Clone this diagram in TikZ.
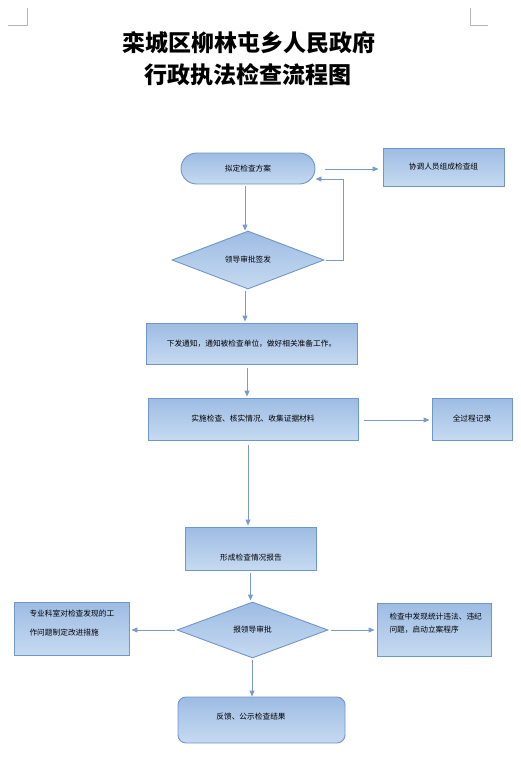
\documentclass[tikz,border=0pt]{standalone}
\usepackage{fontspec}
\setmainfont{Noto Sans CJK SC}
\newfontfamily\cjk{Noto Sans CJK SC}
\usetikzlibrary{shapes.geometric,arrows.meta}
\definecolor{bord}{HTML}{7096C8}
\definecolor{topc}{HTML}{9DBCE3}
\definecolor{botc}{HTML}{C6DAF1}
\definecolor{arrc}{HTML}{7A9BC6}
\definecolor{markc}{HTML}{B4B4B4}
\tikzset{
  lbl/.style={font=\cjk\fontsize{7.7}{9}\selectfont, text=black},
  boxstyle/.style={draw=bord, line width=0.9pt, top color=topc, bottom color=botc, inner sep=0pt, lbl},
  box/.style={boxstyle, rectangle},
  stadium/.style={boxstyle, rectangle, rounded corners=15.5pt},
  rbox/.style={boxstyle, rectangle, rounded corners=8pt},
  dia/.style={boxstyle, diamond},
  arr/.style={draw=arrc, line width=0.9pt, -{Triangle[length=6pt,width=5pt]}},
  cornermark/.style={draw=markc, line width=0.6pt},
  titlestyle/.style={font=\cjk\bfseries\fontsize{23}{28}\selectfont, text=black}
}
\begin{document}
\begin{tikzpicture}[x=1pt,y=-1pt]
\useasboundingbox (0,0) rectangle (521,768);
% corner marks
\draw[cornermark] (27,8) -- (27,25) -- (8,25);
\draw[cornermark] (470,8) -- (470,25) -- (488,25);
% title
\node[titlestyle] (t1) at (249,43) {栾城区柳林屯乡人民政府};
\node[titlestyle] (t2) at (248,75) {行政执法检查流程图};
% nodes
\node[stadium, minimum width=134pt, minimum height=31pt] (plan) at (248,168.5) {拟定检查方案};
\node[box, minimum width=121pt, minimum height=38pt] (team) at (443.5,167) {协调人员组成检查组};
\node[dia, minimum width=152pt, minimum height=58pt] (dia1) at (248,260) {领导审批签发};
\node[box, minimum width=211pt, minimum height=41pt] (notice) at (251.5,343.5) {下发通知，通知被检查单位，做好相关准备工作。};
\node[box, minimum width=210pt, minimum height=42pt] (exec) at (253,419) {实施检查、核实情况、收集证据材料};
\node[box, minimum width=80pt, minimum height=42pt] (rec) at (472,419) {全过程记录};
\node[box, minimum width=131pt, minimum height=43pt] (report) at (250.5,548.5) {};
\node[lbl] (reporttxt) at (251,558) {形成检查情况报告};
\node[dia, minimum width=151pt, minimum height=56pt] (dia2) at (252.5,630) {报领导审批};
\node[box, minimum width=115pt, minimum height=53pt] (left) at (71.5,628.5) {};
\node[lbl, anchor=west] (lefttxt1) at (26,614) {专业科室对检查发现的工};
\node[lbl, anchor=west] (lefttxt2) at (26,633) {作问题制定改进措施};
\node[box, minimum width=114pt, minimum height=53pt] (right) at (434,629.5) {};
\node[lbl, anchor=west] (righttxt1) at (386,617) {检查中发现统计违法、违纪};
\node[lbl, anchor=west] (righttxt2) at (386,630) {问题，启动立案程序};
\node[rbox, minimum width=167pt, minimum height=46pt] (final) at (261.5,720) {};
\node[lbl] (finaltxt) at (251,717) {反馈、公示检查结果};
% connectors
\draw[arr, shorten <=10pt, shorten >=4pt] (plan.east |- 0,169) -- (team.west |- 0,169);
\draw[arr, shorten <=2pt] ([xshift=-3pt]plan.south) -- ([xshift=-3pt]plan.south |- dia1.north);
\coordinate (loopA) at ([xshift=19pt]dia1.east);
\coordinate (loopB) at (loopA |- 0,179);
\draw[arr, shorten <=2pt] (dia1.east) -- (loopA) -- (loopB) -- (plan.east |- loopB);
\draw[arr, shorten <=2pt, shorten >=1pt] ([xshift=-3pt]dia1.south) -- ([xshift=-3pt]dia1.south |- notice.north);
\draw[arr, shorten <=4pt, shorten >=1pt] ([xshift=-4.5pt]notice.south) -- ([xshift=-4.5pt]notice.south |- exec.north);
\draw[arr, shorten <=6pt, shorten >=2pt] (exec.east |- 0,420) -- (rec.west |- 0,420);
\draw[arr, shorten <=5pt, shorten >=1pt] ([xshift=-5pt]exec.south) -- ([xshift=-5pt]exec.south |- report.north);
\draw[arr, shorten <=3pt, shorten >=1pt] (report.south) -- (report.south |- dia2.north);
\draw[arr, shorten <=2pt, shorten >=2pt] (dia2.west) -- (left.east |- dia2.west);
\draw[arr, shorten <=3pt, shorten >=2pt] (dia2.east) -- (right.west |- dia2.east);
\draw[arr, shorten <=2pt] ([xshift=-0.5pt]dia2.south) -- ([xshift=-0.5pt]dia2.south |- final.north);
\end{tikzpicture}
\end{document}
